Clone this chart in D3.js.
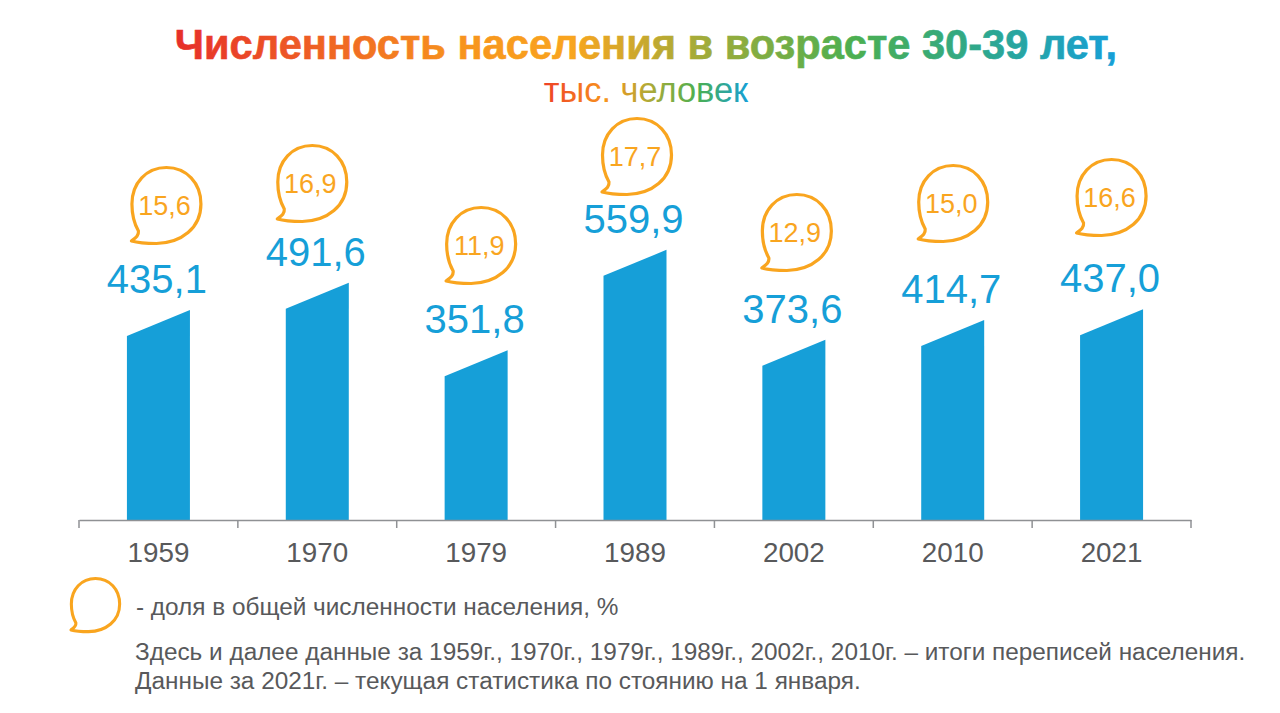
<!DOCTYPE html>
<html><head><meta charset="utf-8">
<script src="https://cdnjs.cloudflare.com/ajax/libs/d3/7.9.0/d3.min.js"></script>
<style>html,body{margin:0;padding:0;background:#fff;overflow:hidden}text{font-family:"Liberation Sans",Arial,sans-serif}</style>
</head><body><svg id="c" width="1280" height="713"></svg>
<script>
const years = ["1959","1970","1979","1989","2002","2010","2021"];
const population = [435.1,491.6,351.8,559.9,373.6,414.7,437.0];
const shares = [15.6,16.9,11.9,17.7,12.9,15.0,16.6];
const titleText = "Численность населения в возрасте 30-39 лет,";
const subtitleText = "тыс. человек";
const legendText = "- доля в общей численности населения, %";
const notes = ["Здесь и далее данные за 1959г., 1970г., 1979г., 1989г., 2002г., 2010г. – итоги переписей населения.",
               "Данные за 2021г. – текущая статистика по стоянию на 1 января."];

const BLUE="#169fd8", ORANGE="#f9a51f", GREY="#58595b", AXIS="#8f9194";
const fmt = (v)=>v.toFixed(1).replace(".",",");
const svg = d3.select("#c");
const defs = svg.append("defs");

function grad(id,x1,x2,stops){
  const g=defs.append("linearGradient").attr("id",id).attr("gradientUnits","userSpaceOnUse")
    .attr("x1",x1).attr("x2",x2).attr("y1",0).attr("y2",0);
  stops.forEach(s=>g.append("stop").attr("offset",s[0]).attr("stop-color",s[1]));
}
grad("gt",175,1117,[[0,"#e62e2a"],[0.3,"#f7931e"],[0.42,"#f9a51f"],[0.55,"#a7ab38"],[0.72,"#4caf50"],[0.85,"#2fa88a"],[1,"#169fd8"]]);
grad("gs",543,749,[[0,"#ee3f26"],[0.3,"#f7931e"],[0.5,"#b5a935"],[0.75,"#4caf50"],[1,"#169fd8"]]);

svg.append("text").attr("x",646).attr("y",59).attr("text-anchor","middle")
  .attr("font-size",41.6).attr("font-weight",700).attr("fill","url(#gt)").attr("stroke","url(#gt)").attr("stroke-width",0.6).text(titleText);
svg.append("text").attr("x",646).attr("y",102).attr("text-anchor","middle")
  .attr("font-size",34.4).attr("fill","url(#gs)").text(subtitleText);

const x = d3.scaleBand().domain(years).range([79,1191]);
const y = d3.scaleLinear().domain([0,600]).range([520,230.5]);
const barW = 63, slant = 26;

svg.append("g").selectAll("path").data(years).join("path")
  .attr("fill",BLUE)
  .attr("d",(d,i)=>{
    const cx=x(d)+x.bandwidth()/2, t=y(population[i]);
    return `M${cx-barW/2},${y(0)}V${t+slant}L${cx+barW/2},${t}V${y(0)}Z`;
  });

const axis = d3.axisBottom(x).tickSize(0).tickPadding(0);
const ax = svg.append("g").attr("transform",`translate(0,${y(0)})`).call(axis);
ax.select(".domain").attr("stroke",AXIS).attr("stroke-width",1.5);
ax.selectAll("text").attr("font-size",27.8).attr("fill",GREY).attr("dy",0).attr("y",42)
  .attr("font-family",'"Liberation Sans",Arial,sans-serif');
const bounds=[...years.map(d=>x(d)),x.range()[1]];
ax.selectAll("line.b").data(bounds).join("line").attr("class","b")
  .attr("x1",d=>d).attr("x2",d=>d).attr("y1",0).attr("y2",8).attr("stroke",AXIS).attr("stroke-width",1.5);

svg.append("g").selectAll("text").data(years).join("text")
  .attr("x",d=>x(d)+x.bandwidth()/2-1.5)
  .attr("y",(d,i)=>y(population[i])-17)
  .attr("text-anchor","middle").attr("font-size",40).attr("fill",BLUE)
  .text((d,i)=>fmt(population[i]));

const bubble="M-35,37C-31,34 -27.5,32 -28,27C-32,20 -34.5,10 -34.5,0C-34.5,-21 -20,-36.5 0,-36.5C20,-36.5 34.5,-21 34.5,0C34.5,24 15,39 -10,39.5C-19,39.5 -28,39 -35,37Z";
const bubbleDx=[8,-5,5,2,3,0.5,0];
const bubbleCy=[204,182,244,155,231,202,196];
const bg=svg.append("g").selectAll("g").data(years).join("g")
  .attr("transform",(d,i)=>`translate(${x(d)+x.bandwidth()/2+bubbleDx[i]},${bubbleCy[i]})`);
bg.append("path").attr("d",bubble).attr("fill","#fff").attr("stroke",ORANGE).attr("stroke-width",3.2).attr("stroke-linejoin","round");
bg.append("text").attr("x",-2).attr("y",11).attr("text-anchor","middle").attr("font-size",27).attr("fill",ORANGE)
  .text((d,i)=>fmt(shares[i]));

svg.append("path").attr("d",bubble).attr("transform","translate(95.5,604) scale(0.7)")
  .attr("fill","#fff").attr("stroke",ORANGE).attr("stroke-width",4.4).attr("stroke-linejoin","round");
svg.append("text").attr("x",136).attr("y",615).attr("font-size",24.35).attr("fill",GREY).text(legendText);
svg.append("g").selectAll("text").data(notes).join("text")
  .attr("x",135).attr("y",(d,i)=>660+i*29).attr("font-size",24.35).attr("fill",GREY).text(d=>d);
</script></body></html>
